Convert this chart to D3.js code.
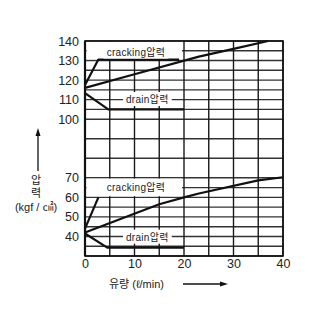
<!DOCTYPE html>
<html>
<head>
<meta charset="utf-8">
<script src="https://cdnjs.cloudflare.com/ajax/libs/d3/7.8.5/d3.min.js"></script>
<style>
body { margin: 0; background: #fff; }
svg { display: block; }
</style>
</head>
<body>
<svg id="chart"></svg>
<script>
// flow (l/min) vs pressure (kgf/cm2)
var xTicks = [0, 10, 20, 30, 40]
var yTicks = [140, 130, 120, 110, 100, 70, 60, 50, 40]
var xGrid = [0, 5, 10, 15, 20, 25, 30, 35, 40]
var yGrid = [140, 135, 130, 125, 120, 115, 110, 105, 100, 90, 80, 70, 65, 60, 55, 50, 45, 40, 35, 30]

var crackingHigh = [[0, 116], [10, 123], [23, 132], [30, 136], [37, 140]]
var crackingHighStart = [[0, 117.5], [2.7, 130.5], [19, 130.5]]
var drainHigh = [[0, 113.3], [4.7, 105], [20, 105]]

var crackingLow = [[0, 42], [15, 56.5], [20, 60], [23, 62], [35, 68.7], [40, 70.3]]
var crackingLowStart = [[0, 44], [2.7, 60]]
var drainLow = [[0, 41.5], [4.5, 34.3], [20, 34.3]]

var dimensions = {
	width: 333,
	height: 315,
	margin: { top: 41, bottom: 59, left: 85, right: 50 }
}

var svg = d3.select("#chart")
	.attr("width", dimensions.width)
	.attr("height", dimensions.height)

var xScale = d3.scaleLinear()
	.domain([0, 40])
	.range([dimensions.margin.left, dimensions.width - dimensions.margin.right])

var yScale = d3.scaleLinear()
	.domain([30, 140])
	.range([dimensions.height - dimensions.margin.bottom, dimensions.margin.top])

var font = "'Liberation Sans', Arial, 'Noto Sans CJK KR', sans-serif"

// grid
svg.append("g").selectAll("line")
	.data(yGrid)
	.enter()
	.append("line")
	.attr("x1", xScale(0))
	.attr("x2", xScale(40))
	.attr("y1", d => yScale(d))
	.attr("y2", d => yScale(d))
	.style("stroke", "#333")
	.style("stroke-width", 1.4)

svg.append("g").selectAll("line")
	.data(xGrid)
	.enter()
	.append("line")
	.attr("x1", d => xScale(d))
	.attr("x2", d => xScale(d))
	.attr("y1", yScale(30))
	.attr("y2", yScale(140))
	.style("stroke", "#1a1a1a")
	.style("stroke-width", 1.4)

// blank areas behind the cracking labels
var blanks = [[0.3, 19.6, 130.6, 139.6], [0.3, 19.6, 60.6, 69.6]]
svg.append("g").selectAll("rect")
	.data(blanks)
	.enter()
	.append("rect")
	.attr("x", d => xScale(d[0]))
	.attr("width", d => xScale(d[1]) - xScale(d[0]))
	.attr("y", d => yScale(d[3]))
	.attr("height", d => yScale(d[2]) - yScale(d[3]))
	.style("fill", "#fff")

var line = d3.line()
	.x(d => xScale(d[0]))
	.y(d => yScale(d[1]))

var curves = [crackingHigh, crackingHighStart, drainHigh, crackingLow, crackingLowStart, drainLow]
svg.append("g").selectAll("path")
	.data(curves)
	.enter()
	.append("path")
	.attr("d", line)
	.style("fill", "none")
	.style("stroke", "#111")
	.style("stroke-width", 2.2)
	.style("stroke-linejoin", "round")

// curve labels
var labels = [
	{ name: "cracking", x: 10.3, y: 133.9 },
	{ name: "drain", x: 12.6, y: 109.6 },
	{ name: "cracking", x: 10.3, y: 64.8 },
	{ name: "drain", x: 12.6, y: 39.2 }
]
var lab = svg.append("g").selectAll("g")
	.data(labels)
	.enter()
	.append("g")

lab.append("rect").style("fill", "#fff")
lab.append("text")
	.attr("x", d => xScale(d.x))
	.attr("y", d => yScale(d.y))
	.attr("text-anchor", "middle")
	.attr("dominant-baseline", "middle")
	.style("font-family", font)
	.style("font-size", "10px")
	.style("letter-spacing", "0.3px")
	.style("fill", "#222")
	.text(d => d.name + "압력")

lab.each(function () {
	var g = d3.select(this)
	var b = g.select("text").node().getBBox()
	g.select("rect")
		.attr("x", b.x - 3).attr("y", b.y - 1)
		.attr("width", b.width + 6).attr("height", b.height + 2)
})

// frame
svg.append("rect")
	.attr("x", xScale(0))
	.attr("y", yScale(140))
	.attr("width", xScale(40) - xScale(0))
	.attr("height", yScale(30) - yScale(140))
	.style("fill", "none")
	.style("stroke", "#111")
	.style("stroke-width", 1.6)

svg.append("line")
	.attr("x1", xScale(0)).attr("x2", xScale(0))
	.attr("y1", yScale(140)).attr("y2", yScale(30))
	.style("stroke", "#111")
	.style("stroke-width", 2.2)

// axes
var yAxisgen = d3.axisLeft(yScale).tickValues(yTicks).tickSize(0).tickPadding(6)
var xAxisgen = d3.axisBottom(xScale).tickValues(xTicks).tickSize(0).tickPadding(3)

var yAxis = svg.append("g")
	.attr("transform", `translate(${xScale(0)},0)`)
	.call(yAxisgen)
var xAxis = svg.append("g")
	.attr("transform", `translate(0,${yScale(30)})`)
	.call(xAxisgen)

svg.selectAll(".domain").remove()
svg.selectAll(".tick text")
	.style("font-family", font)
	.style("font-size", "12.5px")
	.style("fill", "#222")

// axis titles
svg.append("text")
	.attr("x", 109)
	.attr("y", 285)
	.attr("dominant-baseline", "middle")
	.style("font-family", font)
	.style("font-size", "11px")
	.style("fill", "#222")
	.text("유량 (ℓ/min)")

svg.append("line")
	.attr("x1", 183).attr("x2", 222)
	.attr("y1", 284).attr("y2", 284)
	.style("stroke", "#111").style("stroke-width", 1.3)
svg.append("path")
	.attr("d", "M228,284 L220,281.5 L220,286.5 Z")
	.style("fill", "#111")

svg.append("line")
	.attr("x1", 38).attr("x2", 38)
	.attr("y1", 171).attr("y2", 134)
	.style("stroke", "#111").style("stroke-width", 1.3)
svg.append("path")
	.attr("d", "M38,128 L35.5,136 L40.5,136 Z")
	.style("fill", "#111")

var ytitle = ["압", "력", "(kgf / ㎠)"]
svg.append("g").selectAll("text")
	.data(ytitle)
	.enter()
	.append("text")
	.attr("x", 36)
	.attr("y", (d, i) => 181 + i * 13.5)
	.attr("text-anchor", "middle")
	.attr("dominant-baseline", "middle")
	.style("font-family", font)
	.style("font-size", "11px")
	.style("fill", "#222")
	.text(d => d)
</script>
</body>
</html>
